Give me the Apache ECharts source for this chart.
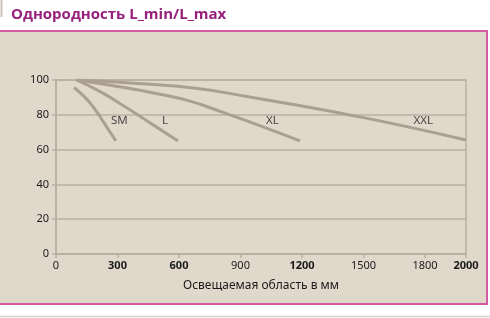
<!DOCTYPE html>
<html><head><meta charset="utf-8">
<script src="https://cdn.jsdelivr.net/npm/echarts@6/dist/echarts.min.js"></script>
<style>html,body{margin:0;padding:0;background:#fff}#c{width:490px;height:318px}</style>
</head><body><div id="c"></div>
<script>
const titleText = 'Однородность L_min/L_max';
const xAxisName = 'Освещаемая область в мм';
const boldTicks = [300, 600, 1200, 2000];
const seriesNames = ['SM', 'L', 'XL', 'XXL'];
const smData  = [[88,95.5],[120,92.5],[150,89],[175,85.5],[200,81.5],[225,77],[250,72.5],[275,68],[292,65]];
const lData   = [[100,100],[220,93],[345,84],[470,74.5],[595,65]];
const xlData  = [[100,100],[300,96.3],[500,92],[650,88],[800,82],[1000,73.5],[1190,65]];
const xxlData = [[100,100],[400,98],[700,95],[930,90.5],[1200,85],[1450,79.5],[1700,73.5],[2000,65.5]];
const labelAt = [[309,76.4],[532,76.4],[1055,76.4],[1792,76.4]];

const lineColor = '#ab9f93';
const axisColor = '#b9afa3';
const allData = [smData, lData, xlData, xxlData];

const chart = echarts.init(document.getElementById('c'), null, {renderer:'canvas'});
const series = allData.map((d, i) => ({
  name: seriesNames[i], type: 'line', data: d, smooth: 0.5, showSymbol: false,
  lineStyle: {color: lineColor, width: 3}, z: 3, silent: true
}));
series.push({
  type: 'scatter', symbolSize: 0, silent: true, z: 4,
  data: labelAt.map((p, i) => ({value: p, name: seriesNames[i]})),
  label: {show: true, position: 'inside', formatter: p => p.name,
    color: '#1a1a1a', fontSize: 11.5, fontFamily: 'Noto Sans'}
});
chart.setOption({
  animation: false,
  backgroundColor: '#ffffff',
  graphic: [
    {type:'rect', shape:{x:0,y:30,width:488,height:275}, style:{fill:'#e1d8cc'}, z:-10},
    {type:'line', shape:{x1:0,y1:31,x2:488,y2:31}, style:{stroke:'#d35aa3', lineWidth:2}, z:-5},
    {type:'line', shape:{x1:0,y1:304,x2:488,y2:304}, style:{stroke:'#d35aa3', lineWidth:2}, z:-5},
    {type:'line', shape:{x1:487,y1:30,x2:487,y2:305}, style:{stroke:'#d35aa3', lineWidth:2}, z:-5},
    {type:'line', shape:{x1:1.5,y1:0,x2:1.5,y2:17}, style:{stroke:'#c8c3be', lineWidth:2}, z:-5},
    {type:'line', shape:{x1:0,y1:316.5,x2:490,y2:316.5}, style:{stroke:'#d6d1cc', lineWidth:1.5}, z:-5}
  ],
  title: {text: titleText, left: 6, top: 2,
    textStyle: {color:'#97207d', fontSize:15, fontWeight:'bold', fontFamily:'Open Sans'}},
  grid: {left:56, right:24, top:80, bottom:64, show:true, borderColor:axisColor, borderWidth:1.5, backgroundColor:'transparent'},
  xAxis: {type:'value', min:0, max:2000, interval:300,
    name: xAxisName, nameLocation:'middle', nameGap:26,
    nameTextStyle:{color:'#1a1a1a', fontSize:12, fontFamily:'Noto Sans'},
    axisLine:{show:true, lineStyle:{color:axisColor, width:1.5}},
    axisTick:{show:true, length:4, lineStyle:{color:axisColor, width:1.5}},
    splitLine:{show:false},
    axisLabel:{color:'#1a1a1a', fontSize:11, fontFamily:'Noto Sans', margin:6,
      formatter: v => boldTicks.includes(v) ? '{b|'+v+'}' : String(v),
      rich:{b:{fontWeight:'bold', fontSize:11, color:'#1a1a1a', fontFamily:'Noto Sans'}}}
  },
  yAxis: {type:'value', min:0, max:100, interval:20,
    axisLine:{show:true, lineStyle:{color:axisColor, width:1.5}},
    axisTick:{show:true, length:4, lineStyle:{color:axisColor, width:1.5}},
    splitLine:{show:true, lineStyle:{color:axisColor, width:1.5}},
    axisLabel:{color:'#1a1a1a', fontSize:11, fontFamily:'Noto Sans', margin:7}
  },
  series: series
});
</script></body></html>
